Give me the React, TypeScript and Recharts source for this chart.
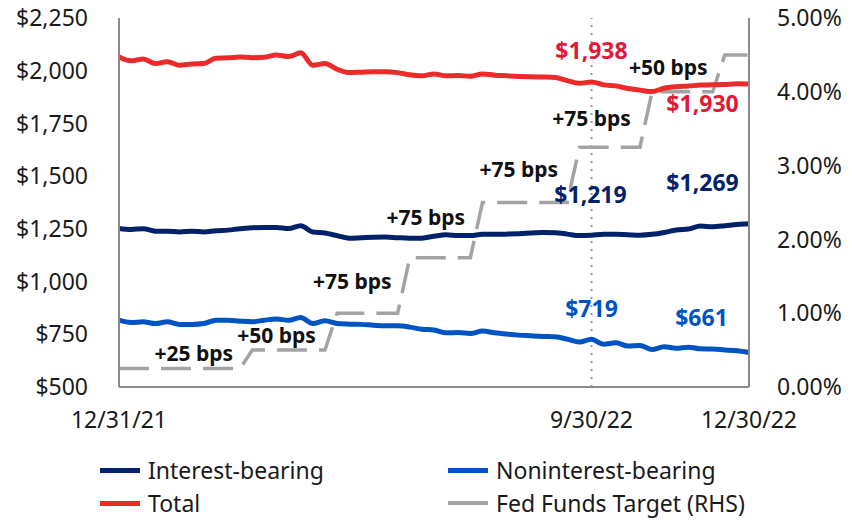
import {
  LineChart,
  Line,
  XAxis,
  YAxis,
  ReferenceLine,
  ReferenceDot,
} from "recharts";

// weekly, Fridays
const weeks = [
  "12/31/21", "1/7/22", "1/14/22", "1/21/22", "1/28/22", "2/4/22", "2/11/22", "2/18/22",
  "2/25/22", "3/4/22", "3/11/22", "3/18/22", "3/25/22", "4/1/22", "4/8/22", "4/15/22",
  "4/22/22", "4/29/22", "5/6/22", "5/13/22", "5/20/22", "5/27/22", "6/3/22", "6/10/22",
  "6/17/22", "6/24/22", "7/1/22", "7/8/22", "7/15/22", "7/22/22", "7/29/22", "8/5/22",
  "8/12/22", "8/19/22", "8/26/22", "9/2/22", "9/9/22", "9/16/22", "9/23/22", "9/30/22",
  "10/7/22", "10/14/22", "10/21/22", "10/28/22", "11/4/22", "11/11/22", "11/18/22", "11/25/22",
  "12/2/22", "12/9/22", "12/16/22", "12/23/22", "12/30/22",
];

const total = [
  2065, 2047, 2056, 2034, 2043, 2026, 2032, 2034, 2059, 2061, 2065, 2062, 2064, 2075,
  2067, 2085, 2026, 2034, 2007, 1991, 1993, 1995, 1995, 1991, 1981, 1976, 1985, 1976,
  1977, 1974, 1985, 1979, 1976, 1973, 1971, 1970, 1968, 1953, 1940, 1947, 1933, 1928,
  1916, 1908, 1901, 1917, 1924, 1927, 1932, 1933, 1935, 1938, 1937,
];

const interestBearing = [
  1252, 1247, 1251, 1239, 1239, 1235, 1239, 1235, 1241, 1244, 1251, 1255, 1257, 1257,
  1252, 1265, 1235, 1230, 1218, 1206, 1208, 1210, 1211, 1208, 1206, 1206, 1215, 1222,
  1218, 1218, 1224, 1224, 1225, 1227, 1230, 1233, 1232, 1225, 1218, 1220, 1225, 1224,
  1222, 1220, 1224, 1233, 1245, 1249, 1263, 1260, 1265, 1271, 1274,
];

const nonInterestBearing = [
  817, 806, 809, 801, 809, 797, 797, 801, 817, 817, 812, 809, 817, 822, 817, 830, 801,
  814, 801, 798, 797, 793, 790, 790, 784, 774, 770, 757, 758, 754, 765, 757, 751, 746,
  743, 740, 738, 727, 713, 726, 703, 710, 694, 697, 678, 691, 684, 689, 681, 680, 676,
  672, 664,
];

const fedFunds = [
  0.25, 0.25, 0.25, 0.25, 0.25, 0.25, 0.25, 0.25, 0.25, 0.25, 0.25, 0.5, 0.5, 0.5, 0.5,
  0.5, 0.5, 0.5, 1.0, 1.0, 1.0, 1.0, 1.0, 1.0, 1.75, 1.75, 1.75, 1.75, 1.75, 1.75, 2.5,
  2.5, 2.5, 2.5, 2.5, 2.5, 2.5, 2.5, 3.25, 3.25, 3.25, 3.25, 3.25, 3.25, 4.0, 4.0, 4.0,
  4.0, 4.0, 4.0, 4.5, 4.5, 4.5,
];

const xTicks = ["12/31/21", "9/30/22", "12/30/22"];
const leftTicks = [500, 750, 1000, 1250, 1500, 1750, 2000, 2250];
const rightTicks = [0, 1, 2, 3, 4, 5];

const RED = "#ec2a2a";
const RED_TXT = "#e31837";
const NAVY = "#012169";
const BLUE = "#0053c2";
const GRAY = "#a3a3a3";
const AXIS = "#8c8c8c";
const FONT = "'Noto Sans', sans-serif";

// callouts: value labels on the $ axis, hike labels on the % axis
const valueNotes = [
  { text: "$1,938", at: "9/30/22", y: 2098, color: RED_TXT, dx: 0 },
  { text: "$1,930", at: "12/2/22", y: 1846, color: RED_TXT, dx: 2 },
  { text: "$1,269", at: "12/2/22", y: 1470, color: NAVY, dx: 2 },
  { text: "$1,219", at: "9/30/22", y: 1413, color: NAVY, dx: -1 },
  { text: "$719", at: "9/30/22", y: 876, color: BLUE, dx: 0 },
  { text: "$661", at: "12/2/22", y: 833, color: BLUE, dx: 1 },
];

const hikeNotes = [
  { text: "+50 bps", at: "11/11/22", y: 4.33, dx: 4 },
  { text: "+75 bps", at: "9/30/22", y: 3.65, dx: 0 },
  { text: "+75 bps", at: "8/19/22", y: 2.95, dx: 0 },
  { text: "+75 bps", at: "6/24/22", y: 2.31, dx: 4 },
  { text: "+75 bps", at: "5/13/22", y: 1.43, dx: 3 },
  { text: "+50 bps", at: "4/1/22", y: 0.71, dx: 0 },
  { text: "+25 bps", at: "2/11/22", y: 0.46, dx: 2 },
];

const data = weeks.map((date, i) => ({
  date,
  total: total[i],
  interest: interestBearing[i],
  nonInterest: nonInterestBearing[i],
  fed: fedFunds[i],
}));

const fmtMoney = (v: number) => "$" + v.toLocaleString("en-US");
const fmtPct = (v: number) => v.toFixed(2) + "%";

function noteShape(text: string, color: string, size: number, dx: number) {
  return (p: any) => (
    <text
      x={p.cx + dx}
      y={p.cy}
      textAnchor="middle"
      dominantBaseline="central"
      fill={color}
      fontSize={size}
      fontWeight={700}
      fontFamily={FONT}
    >
      {text}
    </text>
  );
}

const legendRows = [
  [
    { name: "Interest-bearing", color: NAVY, h: 5 },
    { name: "Noninterest-bearing", color: BLUE, h: 5 },
  ],
  [
    { name: "Total", color: RED, h: 5 },
    { name: "Fed Funds Target (RHS)", color: GRAY, h: 4 },
  ],
];

export default function App() {
  const tick = { fill: "#1a1a1a", fontSize: 23, fontFamily: FONT };
  return (
    <div
      style={{
        position: "absolute",
        left: 0,
        top: 0,
        width: 852,
        height: 521,
        background: "#fff",
        fontFamily: FONT,
      }}
    >
      <LineChart
        width={852}
        height={445}
        data={data}
        margin={{ top: 18, right: 0, bottom: 8, left: 0 }}
      >
        <XAxis
          dataKey="date"
          ticks={xTicks}
          interval={0}
          tick={tick}
          tickLine={false}
          tickSize={0}
          tickMargin={25}
          height={50}
          axisLine={{ stroke: AXIS, strokeWidth: 2 }}
        />
        <YAxis
          yAxisId="left"
          domain={[500, 2250]}
          ticks={leftTicks}
          tickFormatter={fmtMoney}
          tick={tick}
          tickLine={false}
          tickSize={0}
          tickMargin={31}
          width={119}
          axisLine={{ stroke: AXIS, strokeWidth: 2 }}
        />
        <YAxis
          yAxisId="right"
          orientation="right"
          domain={[0, 5]}
          ticks={rightTicks}
          tickFormatter={fmtPct}
          tick={tick}
          tickLine={false}
          tickSize={0}
          tickMargin={28}
          width={103}
          axisLine={{ stroke: AXIS, strokeWidth: 2 }}
        />
        <ReferenceLine
          yAxisId="left"
          x="9/30/22"
          stroke="#9a9a9a"
          strokeWidth={2}
          strokeDasharray="2 6"
        />
        <Line
          yAxisId="right"
          dataKey="fed"
          type="linear"
          stroke={GRAY}
          strokeWidth={3.5}
          strokeDasharray="30 12"
          dot={false}
          isAnimationActive={false}
        />
        <Line
          yAxisId="left"
          dataKey="nonInterest"
          type="monotone"
          stroke={BLUE}
          strokeWidth={5}
          dot={false}
          isAnimationActive={false}
        />
        <Line
          yAxisId="left"
          dataKey="interest"
          type="monotone"
          stroke={NAVY}
          strokeWidth={5}
          dot={false}
          isAnimationActive={false}
        />
        <Line
          yAxisId="left"
          dataKey="total"
          type="monotone"
          stroke={RED}
          strokeWidth={5}
          dot={false}
          isAnimationActive={false}
        />
        {valueNotes.map((n, i) => (
          <ReferenceDot
            key={"v" + i}
            yAxisId="left"
            x={n.at}
            y={n.y}
            r={0}
            ifOverflow="visible"
            shape={noteShape(n.text, n.color, 23, n.dx)}
          />
        ))}
        {hikeNotes.map((n, i) => (
          <ReferenceDot
            key={"h" + i}
            yAxisId="right"
            x={n.at}
            y={n.y}
            r={0}
            ifOverflow="visible"
            shape={noteShape(n.text, "#111", 21, n.dx)}
          />
        ))}
      </LineChart>
      {legendRows.map((row, r) => (
        <div
          key={r}
          style={{
            position: "absolute",
            top: 456 + r * 33,
            left: 100,
            height: 28,
            display: "flex",
            alignItems: "center",
          }}
        >
          {row.map((item, j) => (
            <div
              key={item.name}
              style={{
                position: "absolute",
                left: j * 348,
                top: 0,
                height: 28,
                display: "flex",
                alignItems: "center",
                whiteSpace: "nowrap",
              }}
            >
              <span
                style={{
                  display: "inline-block",
                  width: 40,
                  height: item.h,
                  background: item.color,
                  marginRight: 8,
                }}
              />
              <span style={{ fontSize: 23, color: "#1a1a1a" }}>{item.name}</span>
            </div>
          ))}
        </div>
      ))}
    </div>
  );
}
